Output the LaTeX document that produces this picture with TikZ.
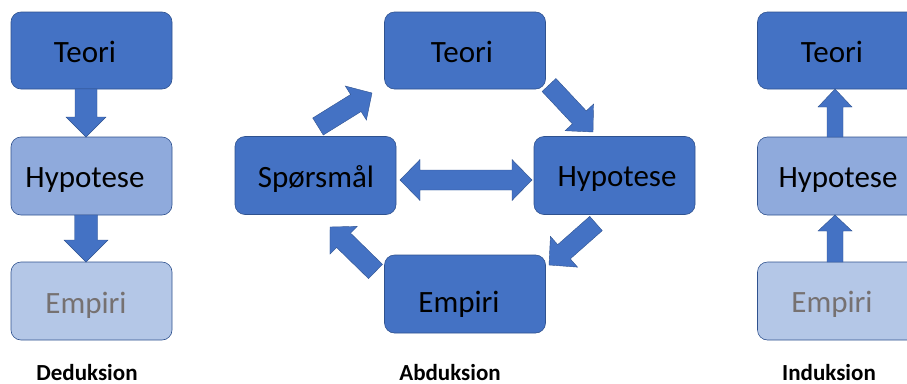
\documentclass[tikz,border=0pt]{standalone}
\usepackage{fontspec}
\setmainfont{Carlito}
\usetikzlibrary{calc}

\definecolor{dark}{HTML}{4472C4}
\definecolor{mid}{HTML}{8FAADC}
\definecolor{pale}{HTML}{B4C7E7}
\definecolor{edge}{HTML}{2F528F}
\definecolor{greytext}{HTML}{767171}

\tikzset{
  box/.style={draw=edge, line width=0.6pt, rounded corners=10pt,
    minimum width=161pt, minimum height=78pt, inner sep=0pt},
  lbl/.style={anchor=base, font=\fontsize{31}{36}\selectfont},
  captxt/.style={anchor=base, font=\bfseries\fontsize{23}{28}\selectfont},
  blockstyle/.style={fill=dark, draw=edge, line width=0.4pt, line join=miter}
}

% block arrow: tail, tip, half shaft width, half head width, head length
\newcommand\blockarr[5]{%
  \path[blockstyle]
    ($(#1)!#3!90:(#2)$)
    -- ($(#2)!#5!(#1)!#3!-90:(#1)$)
    -- ($(#2)!#5!(#1)!#4!-90:(#1)$)
    -- (#2)
    -- ($(#2)!#5!(#1)!#4!90:(#1)$)
    -- ($(#2)!#5!(#1)!#3!90:(#1)$)
    -- ($(#1)!#3!-90:(#2)$)
    -- cycle;}

\begin{document}
\begin{tikzpicture}[x=1pt,y=-1pt]
\useasboundingbox (0,0) rectangle (907,383);
\clip (0,0) rectangle (907,383);

% ---------- Deduksion ----------
\node[box, fill=dark, minimum height=77pt] (dT) at (91.5,50.5) {};
\node[box, fill=mid] (dH) at (91.5,176) {};
\node[box, fill=pale] (dE) at (91.5,301) {};
\node[lbl] (dTt) at (85,62) {Teori};
\node[lbl] (dHt) at (85,187) {Hypotese};
\node[lbl, text=greytext] (dEt) at (86,313) {Empiri};
\coordinate (d1a) at (86,89);  \coordinate (d1b) at (86,137);
\coordinate (d2a) at (86,215); \coordinate (d2b) at (86,262);
\blockarr{d1a}{d1b}{11pt}{20pt}{20pt}
\blockarr{d2a}{d2b}{11.5pt}{22pt}{22pt}
\node[captxt] (dcap) at (87,380) {Deduksion};

% ---------- Abduksion ----------
\node[box, fill=dark, minimum height=77pt] (aT) at (465,50.5) {};
\node[box, fill=dark] (aS) at (315.5,175.5) {};
\node[box, fill=dark] (aH) at (614.5,175.5) {};
\node[box, fill=dark] (aE) at (465,294) {};
\node[lbl] (aTt) at (462,62) {Teori};
\node[lbl] (aSt) at (316,187) {Spørsmål};
\node[lbl] (aHt) at (617,186) {Hypotese};
\node[lbl] (aEt) at (459,312) {Empiri};

\coordinate (a1a) at (318,126.5); \coordinate (a1b) at (372,93);
\coordinate (a2a) at (549,85);    \coordinate (a2b) at (593,132);
\coordinate (a3a) at (596,223.5); \coordinate (a3b) at (549,265);
\coordinate (a4a) at (375.5,271.5); \coordinate (a4b) at (330,227);
\blockarr{a1a}{a1b}{10pt}{20pt}{19pt}
\blockarr{a2a}{a2b}{9.5pt}{19.5pt}{20pt}
\blockarr{a3a}{a3b}{9.5pt}{20.5pt}{20pt}
\blockarr{a4a}{a4b}{10pt}{19.5pt}{19pt}

% two-headed arrow between Spørsmål and Hypotese
\coordinate (dl) at (400,180);
\coordinate (dr) at (532,180);
\path[blockstyle] (dl) -- ($(dl)+(20,-20.5)$) -- ($(dl)+(20,-10)$)
  -- ($(dr)+(-20,-10)$) -- ($(dr)+(-20,-20.5)$) -- (dr)
  -- ($(dr)+(-20,20.5)$) -- ($(dr)+(-20,10)$)
  -- ($(dl)+(20,10)$) -- ($(dl)+(20,20.5)$) -- cycle;
\node[captxt] (acap) at (450,380) {Abduksion};

% ---------- Induksion ----------
\node[box, fill=dark, minimum height=77pt] (iT) at (838,50.5) {};
\node[box, fill=mid] (iH) at (838,176) {};
\node[box, fill=pale] (iE) at (838,301) {};
\node[lbl] (iTt) at (832,62) {Teori};
\node[lbl] (iHt) at (838,187) {Hypotese};
\node[lbl, text=greytext] (iEt) at (832,312) {Empiri};
\coordinate (i1a) at (835,262); \coordinate (i1b) at (835,215);
\coordinate (i2a) at (835,137); \coordinate (i2b) at (835,89);
\blockarr{i1a}{i1b}{8pt}{17pt}{16pt}
\blockarr{i2a}{i2b}{8pt}{17pt}{18pt}
\node[captxt] (icap) at (829,380) {Induksion};
\end{tikzpicture}
\end{document}
